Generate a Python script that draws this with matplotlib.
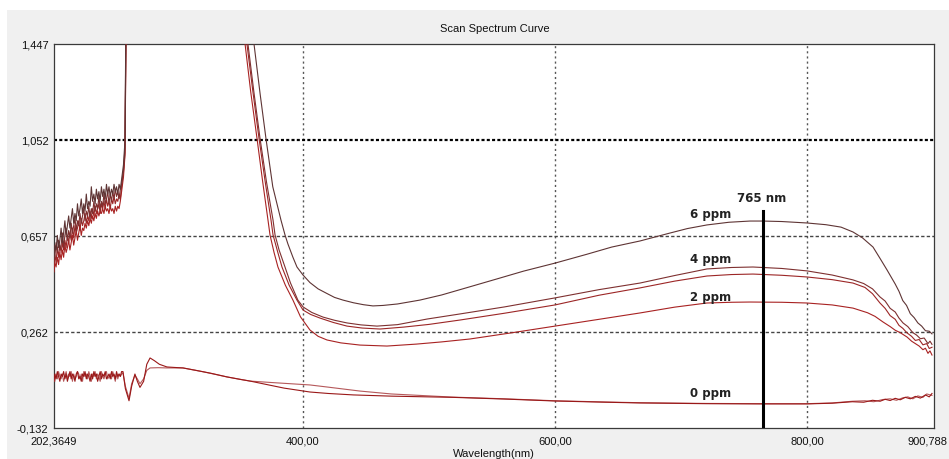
import numpy as np
import matplotlib
matplotlib.use("Agg")
import matplotlib.pyplot as plt
from matplotlib.patches import Rectangle
import matplotlib.transforms as mtransforms

plt.rcParams["font.family"] = ["Liberation Sans", "DejaVu Sans"]
plt.rcParams["lines.scale_dashes"] = False

# ---- axis ranges and tick labels ----
x_min, x_max = 202.3649, 900.788
y_min, y_max = -0.132, 1.447
x_ticks = [202.3649, 400.0, 600.0, 800.0, 900.788]
x_tick_labels = ["202,3649", "400,00", "600,00", "800,00", "900,788"]
y_ticks = [-0.132, 0.262, 0.657, 1.052, 1.447]
y_tick_labels = ["-0,132", "0,262", "0,657", "1,052", "1,447"]

marker_nm = 765

# ---- spectra (wavelength in nm, absorbance) ----
# deep-UV scan points (1 nm steps up to 256 nm)
uv_grid = [202.4, 203, 204, 205, 206, 207, 208, 209, 210, 211, 212,
           213, 214, 215, 216, 217, 218, 219, 220, 221, 222, 223,
           224, 225, 226, 227, 228, 229, 230, 231, 232, 233, 234,
           235, 236, 237, 238, 239, 240, 241, 242, 243, 244, 245,
           246, 247, 248, 249, 250, 251, 252, 253, 254, 255, 256]
# detector saturation between the UV band and the visible band
sat_wl = [257.5, 258.7, 259.5, 261, 300, 340]

wl_6ppm = uv_grid + sat_wl + [
    356, 361.1, 366, 370.6, 376, 382.5, 385.7, 388, 392, 395.2, 400, 405.5, 412,
    419, 425, 431.7, 440, 448, 455.5, 463.5, 475, 492.8, 510, 530, 553.9, 575,
    600, 625, 645, 667.4, 690, 705, 720.6, 738, 754.8, 765, 780, 800, 815, 827,
    836.5, 844, 852.4, 858, 863.5, 870, 873, 876, 879, 882, 885, 888, 891, 894,
    897, 899.2]
abs_6ppm = [
    0.56, 0.62, 0.60, 0.66, 0.61, 0.64, 0.69, 0.63, 0.67, 0.72, 0.66,
    0.70, 0.74, 0.69, 0.73, 0.77, 0.71, 0.75, 0.72, 0.79, 0.74, 0.77,
    0.81, 0.75, 0.79, 0.76, 0.83, 0.77, 0.80, 0.78, 0.86, 0.80, 0.83,
    0.79, 0.85, 0.81, 0.84, 0.80, 0.86, 0.82, 0.85, 0.81, 0.87, 0.83,
    0.86, 0.82, 0.85, 0.83, 0.87, 0.84, 0.86, 0.83, 0.87, 0.85, 0.89,
    0.95, 1.05, 1.60, 2.40, 3.00, 3.00,
    1.66, 1.447, 1.24, 1.058, 0.86, 0.723, 0.662, 0.625, 0.570, 0.530, 0.497,
    0.466, 0.440, 0.421, 0.405, 0.394, 0.383, 0.375, 0.370, 0.372, 0.378,
    0.394, 0.415, 0.445, 0.481, 0.513, 0.546, 0.582, 0.612, 0.637, 0.668,
    0.688, 0.703, 0.714, 0.719, 0.719, 0.717, 0.711, 0.704, 0.694, 0.674,
    0.650, 0.612, 0.565, 0.518, 0.460, 0.430, 0.392, 0.372, 0.338, 0.322,
    0.300, 0.287, 0.268, 0.266, 0.255]

wl_4ppm_a = uv_grid + sat_wl + [
    351, 356.3, 361, 365.9, 371, 376.2, 377.8, 381, 385.7, 390, 395.9, 400, 407,
    415.9, 425, 434.9, 446, 458.7, 475, 498.4, 524.6, 560, 600, 635, 667.4, 695,
    720.6, 740, 757.1, 780, 800, 820, 836.5, 845, 852, 857.9, 862, 866, 870, 873,
    876.2, 880, 884, 887, 890, 893, 896, 897.6, 899.2]
abs_4ppm_a = [
    0.60, 0.57, 0.63, 0.59, 0.64, 0.60, 0.62, 0.67, 0.61, 0.66, 0.69,
    0.64, 0.68, 0.65, 0.71, 0.67, 0.70, 0.73, 0.68, 0.72, 0.70, 0.75,
    0.71, 0.74, 0.77, 0.72, 0.76, 0.74, 0.78, 0.73, 0.77, 0.75, 0.80,
    0.76, 0.79, 0.77, 0.82, 0.77, 0.80, 0.78, 0.83, 0.79, 0.81, 0.84,
    0.79, 0.83, 0.80, 0.84, 0.81, 0.85, 0.82, 0.84, 0.81, 0.85, 0.87,
    0.93, 1.02, 1.55, 2.40, 3.00, 3.00,
    1.67, 1.447, 1.25, 1.058, 0.88, 0.723, 0.662, 0.60, 0.530, 0.465, 0.394,
    0.366, 0.343, 0.324, 0.311, 0.300, 0.292, 0.287, 0.293, 0.316, 0.337,
    0.366, 0.403, 0.437, 0.464, 0.495, 0.522, 0.528, 0.530, 0.524, 0.514,
    0.497, 0.477, 0.462, 0.440, 0.407, 0.390, 0.360, 0.345, 0.320, 0.300,
    0.285, 0.260, 0.250, 0.235, 0.238, 0.215, 0.225, 0.212]

wl_4ppm_b = uv_grid + sat_wl + [
    351, 355.5, 360, 365.1, 370, 374.6, 376.2, 380, 383.3, 389, 395.2, 400, 406,
    413.5, 424, 434.9, 447, 461.1, 480, 500, 524.6, 560, 600, 635, 667.4, 695,
    720.6, 740, 757.1, 780, 800, 820, 836.5, 846, 852, 857.9, 862, 866, 870, 873,
    876, 879.4, 883, 886, 889, 892, 895, 897, 899.2]
abs_4ppm_b = [
    0.54, 0.58, 0.55, 0.61, 0.57, 0.62, 0.59, 0.63, 0.60, 0.64, 0.61,
    0.66, 0.63, 0.67, 0.64, 0.69, 0.65, 0.70, 0.67, 0.69, 0.72, 0.68,
    0.73, 0.70, 0.72, 0.75, 0.71, 0.74, 0.72, 0.76, 0.73, 0.77, 0.74,
    0.78, 0.75, 0.77, 0.79, 0.75, 0.79, 0.77, 0.80, 0.77, 0.81, 0.78,
    0.80, 0.77, 0.81, 0.79, 0.82, 0.79, 0.81, 0.80, 0.83, 0.81, 0.86,
    0.92, 1.00, 1.50, 2.40, 3.00, 3.00,
    1.64, 1.447, 1.26, 1.058, 0.88, 0.723, 0.662, 0.59, 0.530, 0.455, 0.394,
    0.353, 0.335, 0.320, 0.302, 0.287, 0.279, 0.275, 0.283, 0.294, 0.312,
    0.340, 0.374, 0.414, 0.444, 0.472, 0.493, 0.499, 0.501, 0.496, 0.489,
    0.478, 0.464, 0.446, 0.420, 0.382, 0.360, 0.330, 0.315, 0.290, 0.278,
    0.259, 0.245, 0.228, 0.232, 0.210, 0.215, 0.195, 0.200]

wl_2ppm = uv_grid + sat_wl + [
    349, 354, 358.5, 363.5, 368, 372.2, 373.8, 377, 380.1, 386, 392, 398, 405.5,
    412, 419, 430, 445.2, 466.6, 490, 510, 532.5, 565, 600, 635, 667.4, 695,
    720.6, 740, 754.8, 780, 800, 820, 836.5, 848, 854, 860.3, 866, 870, 874,
    879.4, 883, 886, 889, 892, 894, 896, 897.6, 899.2]
abs_2ppm = [
    0.51, 0.55, 0.53, 0.57, 0.54, 0.59, 0.56, 0.60, 0.57, 0.62, 0.59,
    0.61, 0.64, 0.60, 0.63, 0.66, 0.62, 0.65, 0.68, 0.64, 0.67, 0.70,
    0.66, 0.69, 0.68, 0.71, 0.69, 0.72, 0.70, 0.73, 0.71, 0.74, 0.72,
    0.75, 0.73, 0.76, 0.74, 0.76, 0.75, 0.77, 0.75, 0.78, 0.76, 0.77,
    0.75, 0.78, 0.76, 0.77, 0.75, 0.78, 0.76, 0.78, 0.77, 0.80, 0.84,
    0.90, 0.99, 1.45, 2.40, 3.00, 3.00,
    1.67, 1.447, 1.25, 1.058, 0.88, 0.723, 0.662, 0.59, 0.530, 0.455, 0.394,
    0.325, 0.271, 0.245, 0.230, 0.218, 0.209, 0.205, 0.213, 0.222, 0.234,
    0.259, 0.287, 0.315, 0.341, 0.365, 0.382, 0.385, 0.386, 0.385, 0.382,
    0.374, 0.361, 0.342, 0.327, 0.304, 0.285, 0.270, 0.260, 0.242, 0.225,
    0.215, 0.205, 0.190, 0.196, 0.175, 0.185, 0.168]

wl_0ppm_a = uv_grid + [
    257.1, 259, 261.9, 264, 266.6, 268.5, 270.6, 273.5, 276, 278.6, 282, 286,
    292, 298, 304.7, 315, 327, 339.7, 350, 357.9, 370, 385, 405.5, 420, 440, 470,
    519, 560, 600, 640, 667, 720, 765, 800, 820, 836, 845, 852, 858, 862, 866,
    870, 874, 878, 882, 886, 890, 894, 897, 899.2]
abs_0ppm_a = [
    0.06, 0.09, 0.07, 0.10, 0.08, 0.06, 0.09, 0.08, 0.10, 0.07, 0.09,
    0.06, 0.08, 0.10, 0.07, 0.09, 0.08, 0.06, 0.09, 0.10, 0.07, 0.08,
    0.06, 0.09, 0.08, 0.10, 0.07, 0.09, 0.08, 0.06, 0.09, 0.07, 0.10,
    0.08, 0.09, 0.06, 0.08, 0.10, 0.07, 0.09, 0.08, 0.10, 0.07, 0.08,
    0.09, 0.07, 0.10, 0.08, 0.09, 0.07, 0.10, 0.08, 0.09, 0.08, 0.10,
    0.10, 0.03, -0.02, 0.04, 0.09, 0.06, 0.035, 0.06, 0.13, 0.156, 0.145,
    0.130, 0.119, 0.117, 0.115, 0.105, 0.093, 0.078, 0.068, 0.061, 0.048,
    0.032, 0.016, 0.010, 0.004, -0.001, -0.006, -0.013, -0.021, -0.026,
    -0.029, -0.032, -0.033, -0.033, -0.030, -0.024, -0.026, -0.018, -0.022,
    -0.014, -0.019, -0.010, -0.016, -0.006, -0.012, -0.002, -0.009, 0.004,
    -0.004, 0.010]

wl_0ppm_b = uv_grid + [
    257.1, 259, 261.9, 264, 266.6, 268.5, 270.6, 273.5, 276, 278.6, 285, 292,
    304.7, 320, 339.7, 357.9, 375, 405.5, 420, 445, 470, 519, 560, 600, 640, 667,
    720, 765, 800, 820, 836, 846, 853, 860, 866, 871, 876, 880, 884, 888, 892,
    895, 899.2]
abs_0ppm_b = [
    0.08, 0.06, 0.09, 0.07, 0.10, 0.08, 0.07, 0.09, 0.06, 0.08, 0.10,
    0.07, 0.09, 0.08, 0.10, 0.06, 0.09, 0.07, 0.08, 0.10, 0.09, 0.07,
    0.09, 0.06, 0.10, 0.08, 0.09, 0.07, 0.10, 0.08, 0.06, 0.09, 0.08,
    0.10, 0.07, 0.09, 0.08, 0.06, 0.10, 0.08, 0.07, 0.09, 0.10, 0.07,
    0.08, 0.09, 0.07, 0.10, 0.08, 0.06, 0.09, 0.07, 0.09, 0.08, 0.09,
    0.095, 0.04, -0.01, 0.05, 0.085, 0.07, 0.05, 0.07, 0.105, 0.115, 0.116,
    0.115, 0.115, 0.100, 0.078, 0.061, 0.055, 0.045, 0.036, 0.020, 0.008,
    -0.005, -0.012, -0.020, -0.025, -0.028, -0.031, -0.032, -0.032, -0.029,
    -0.022, -0.020, -0.024, -0.015, -0.012, -0.018, -0.008, -0.004, -0.012,
    0.000, -0.006, 0.008, 0.002]

curves = [
    (wl_0ppm_b, abs_0ppm_b, "#b5585a"),
    (wl_0ppm_a, abs_0ppm_a, "#9a1818"),
    (wl_2ppm, abs_2ppm, "#a82222"),
    (wl_4ppm_b, abs_4ppm_b, "#9c2626"),
    (wl_4ppm_a, abs_4ppm_a, "#7e3030"),
    (wl_6ppm, abs_6ppm, "#5e3434"),
]

# concentration labels: text, curve it sits on, lift above the curve (points)
conc_labels = [("6 ppm", wl_6ppm, abs_6ppm, 5.8),
               ("4 ppm", wl_4ppm_a, abs_4ppm_a, 5.4),
               ("2 ppm", wl_2ppm, abs_2ppm, 3.6),
               ("0 ppm", wl_0ppm_a, abs_0ppm_a, 7.6)]
label_x = 740

# ---- figure ----
W, H = 949, 459
fig = plt.figure(figsize=(W / 100, H / 100), dpi=100, facecolor="white")
panel = Rectangle((7 / W, 0), 1 - 7 / W, (H - 10) / H, transform=fig.transFigure,
                  facecolor="#f0f0f0", edgecolor="none", zorder=-10)
fig.add_artist(panel)

ax = fig.add_axes([54 / W, (H - 428) / H, 880 / W, 384 / H])
ax.set_zorder(1)
ax.set_facecolor("white")
ax.set_xlim(x_min, x_max)
ax.set_ylim(y_min, y_max)

for s in ax.spines.values():
    s.set_color("#3a3a3a")
    s.set_linewidth(0.9)

# grid
for xv in x_ticks[1:-1]:
    ax.axvline(xv, color="#555555", lw=1.0, dashes=(1.5, 2.2), zorder=1)
for yv in y_ticks[1:-1]:
    if abs(yv - 1.052) < 1e-6:
        ax.axhline(yv, color="black", lw=1.6, dashes=(2.2, 1.6), zorder=1)
    else:
        ax.axhline(yv, color="#444444", lw=1.0, dashes=(2.4, 1.6), zorder=1)

for wl, a, c in curves:
    ax.plot(wl, a, color=c, lw=0.8, zorder=3)

# marker line at 765 nm
line_top = 0.565
ax.axvline(marker_nm, ymin=0, ymax=line_top, color="black", lw=2.2, zorder=4)
ax.annotate(f"{marker_nm} nm", xy=(marker_nm, line_top), xycoords=("data", "axes fraction"),
            xytext=(-1, 4), textcoords="offset points", ha="center", va="bottom",
            fontsize=8.5, fontweight="bold", family="DejaVu Sans", color="#222222")

for text, wl, a, off in conc_labels:
    yv = np.interp(label_x, wl, a)
    ax.annotate(text, xy=(label_x, yv), xytext=(0, off), textcoords="offset points",
                ha="right", va="center", fontsize=8.5, fontweight="bold",
                family="DejaVu Sans", color="#222222", zorder=5)

ax.set_xticks(x_ticks)
ax.set_xticklabels(x_tick_labels)
ax.set_yticks(y_ticks)
ax.set_yticklabels(y_tick_labels)
ax.tick_params(length=0, labelsize=8, colors="#111111", pad=4)
ax.tick_params(axis="x", pad=6)
# keep the last wavelength label inside the figure
last = ax.get_xticklabels()[-1]
last.set_transform(last.get_transform() +
                   mtransforms.ScaledTranslation(-6 / 100, 0, fig.dpi_scale_trans))
ax.set_xlabel("Wavelength(nm)", fontsize=8, labelpad=2, color="#111111")

fig.text(495 / W, 1 - 29 / H, "Scan Spectrum Curve", ha="center", va="center",
         fontsize=8, color="#111111")

fig.savefig("out.png", dpi=100, facecolor=fig.get_facecolor())
